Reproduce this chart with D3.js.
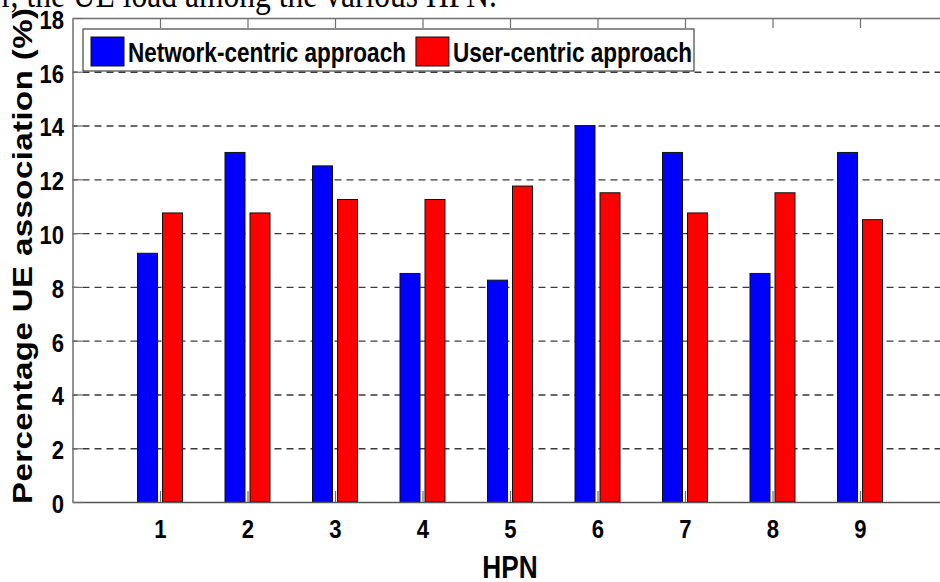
<!DOCTYPE html>
<html>
<head>
<meta charset="utf-8">
<script src="https://cdn.jsdelivr.net/npm/d3@7/dist/d3.min.js"></script>
<style>
  html, body { margin: 0; padding: 0; background: #fff; }
  svg { display: block; }
  text { font-family: "Liberation Sans", Arial, Helvetica, sans-serif; font-weight: bold; fill: #000; }
</style>
</head>
<body>
<svg id="chart" width="940" height="582"></svg>
<script>
// HPN indices and the share of UEs associated with each one (%)
const hpn = [1, 2, 3, 4, 5, 6, 7, 8, 9];
const networkCentric = [9.25, 13, 12.5, 8.5, 8.25, 14, 13, 8.5, 13];
const userCentric = [10.75, 10.75, 11.25, 11.25, 11.75, 11.5, 10.75, 11.5, 10.5];
const seriesNames = ["Network-centric approach", "User-centric approach"];
const seriesColors = ["#0000ff", "#ff0000"];
const yTicks = [0, 2, 4, 6, 8, 10, 12, 14, 16, 18];
const captionText = "r, the UE load among the various HPN.";

const series = [networkCentric, userCentric];
const squeeze = 0.82; // horizontal condensing applied to the labels

const svg = d3.select("#chart");
const plotLeft = 72.5, plotRight = 947.5, plotTop = 18, plotBottom = 502;

const x = d3.scaleLinear().domain([0, 10]).range([plotLeft, plotRight]);
const y = d3.scaleLinear().domain([0, 18]).range([plotBottom, plotTop]);
const xSub = d3.scaleBand().domain(d3.range(series.length)).range([-22.5, 22.5]).paddingInner(0.2);

// caption line from the surrounding text
svg.append("text")
  .attr("transform", `translate(497,7) scale(${squeeze},1)`)
  .attr("text-anchor", "end")
  .style("font-family", '"Liberation Serif", "Times New Roman", serif')
  .style("font-weight", "normal")
  .style("font-size", "38.5px")
  .text(captionText);

// dashed horizontal grid
const grid = svg.append("g")
  .attr("transform", `translate(${plotLeft},0)`)
  .call(d3.axisLeft(y).tickValues(yTicks.filter(v => v > 0 && v < 18))
    .tickSize(-(plotRight - plotLeft)).tickFormat(""));
grid.select(".domain").remove();
grid.selectAll(".tick line")
  .attr("stroke", "#3a3a3a").attr("stroke-width", 1.4)
  .attr("stroke-dasharray", "7,5").attr("stroke-dashoffset", -10);

// bars
const groups = svg.append("g").selectAll("g")
  .data(hpn)
  .join("g")
  .attr("transform", d => `translate(${x(d)},0)`);

groups.selectAll("rect")
  .data((d, i) => series.map((s, j) => ({ j, v: s[i] })))
  .join("rect")
  .attr("x", d => xSub(d.j))
  .attr("width", xSub.bandwidth())
  .attr("y", d => y(d.v))
  .attr("height", d => y(0) - y(d.v))
  .attr("fill", d => seriesColors[d.j])
  .attr("stroke", "#111")
  .attr("stroke-width", 1);

// axes
const axisColor = "#6e6e6e";
const gTop = svg.append("g").attr("transform", `translate(0,${plotTop})`)
  .call(d3.axisTop(x).tickValues(hpn).tickSizeInner(-10).tickSizeOuter(0).tickFormat(""));
const gBottom = svg.append("g").attr("transform", `translate(0,${plotBottom})`)
  .call(d3.axisBottom(x).tickValues(hpn).tickSizeInner(-11).tickSizeOuter(0).tickPadding(18)
    .tickFormat(d3.format("d")));
const gLeft = svg.append("g").attr("transform", `translate(${plotLeft},0)`)
  .call(d3.axisLeft(y).tickValues(yTicks).tickSizeInner(-10).tickSizeOuter(0).tickPadding(10)
    .tickFormat(d3.format("d")));

[gTop, gBottom, gLeft].forEach(g => {
  g.select(".domain").attr("stroke", axisColor).attr("stroke-width", 1.5);
  g.selectAll(".tick line").attr("stroke", axisColor).attr("stroke-width", 1.2);
  g.selectAll(".tick text")
    .style("font-family", '"Liberation Sans", Arial, sans-serif')
    .style("font-weight", "bold")
    .style("font-size", "26px")
    .attr("fill", "#000")
    .attr("transform", `scale(0.85,1)`);
});
gBottom.select(".domain").attr("stroke", "#555");
gLeft.selectAll(".tick text").attr("dy", "0.4em");

// legend
const legend = svg.append("g");
legend.append("rect")
  .attr("x", 83).attr("y", 29).attr("width", 611).attr("height", 42)
  .attr("fill", "#fff").attr("stroke", "#444").attr("stroke-width", 1.2);

let cursor = 91;
seriesNames.forEach((name, j) => {
  legend.append("rect")
    .attr("x", cursor).attr("y", 37).attr("width", 33).attr("height", 29)
    .attr("fill", seriesColors[j]).attr("stroke", "#111").attr("stroke-width", 1);
  const t = legend.append("text")
    .attr("transform", `translate(${cursor + 37},62) scale(${squeeze},1)`)
    .style("font-size", "27.5px")
    .text(name);
  cursor += 37 + t.node().getComputedTextLength() * squeeze + 10;
});

// axis titles
svg.append("text")
  .attr("transform", `translate(510,578) scale(${squeeze},1)`)
  .attr("text-anchor", "middle")
  .style("font-size", "32px")
  .text("HPN");

svg.append("text")
  .attr("transform", `translate(32,256) scale(${squeeze},1) rotate(-90)`)
  .attr("text-anchor", "middle")
  .attr("textLength", 496)
  .attr("lengthAdjust", "spacing")
  .style("font-size", "33px")
  .text("Percentage UE association (%)");
</script>
</body>
</html>
